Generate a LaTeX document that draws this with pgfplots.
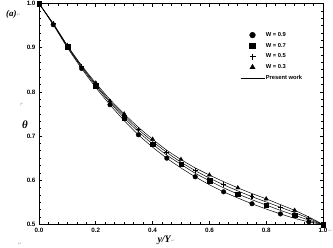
\documentclass[border=0pt]{standalone}
\usepackage{fontspec}
\setmainfont{Liberation Serif}
\setsansfont{Liberation Sans}
\newfontfamily\symfont{DejaVu Sans}
\usepackage{pgfplots}
\pgfplotsset{compat=1.18}
\begin{document}
\begin{tikzpicture}
\useasboundingbox (0,0) rectangle (333bp,248bp);
\begin{axis}[
  at={(39bp,23.5bp)}, anchor=south west,
  scale only axis, width=284bp, height=221bp,
  xmin=0, xmax=1, ymin=0.5, ymax=1.0,
  xtick={0,0.2,0.4,0.6,0.8,1.0}, ytick={0.5,0.6,0.7,0.8,0.9,1.0},
  minor tick num=5,
  tick align=inside,
  major tick length=3.5bp, minor tick length=2bp,
  axis line style={line width=0.9bp},
  every tick/.style={black, line width=0.7bp},
  tick label style={font=\sffamily\bfseries\fontsize{6.3}{6.3}\selectfont,
    /pgf/number format/fixed, /pgf/number format/fixed zerofill,
    /pgf/number format/precision=1, /pgf/number format/assume math mode=true},
  legend style={at={(0.708,0.875)}, anchor=north west, draw=none, fill=none,
    font=\sffamily\bfseries\fontsize{5.8}{6}\selectfont, row sep=3.2bp, inner sep=0pt,
    nodes={inner sep=1bp}, /tikz/every even column/.append style={column sep=4bp}},
  legend cell align=left,
  legend image code/.code={\draw[mark repeat=2,mark phase=2,#1, every mark/.append style={scale=1.25}] plot coordinates {(0bp,0bp) (12bp,0bp) (24bp,0bp)};},
  clip=false,
]
% markers
\addplot[only marks, mark=*, mark size=2.3bp, black] coordinates {
(0.05,0.952) (0.15,0.853) (0.25,0.771) (0.35,0.703) (0.45,0.650) (0.55,0.608) (0.65,0.574) (0.75,0.547) (0.85,0.524) (0.95,0.506)};
\addlegendentry{W = 0.9}
\addplot[only marks, mark=square*, mark size=2.3bp, black] coordinates {
(0,1) (0.1,0.902) (0.2,0.814) (0.3,0.741) (0.4,0.682) (0.5,0.636) (0.6,0.599) (0.7,0.569) (0.8,0.544) (0.9,0.521) (1.0,0.5)};
\addlegendentry{W = 0.7}
\addplot[only marks, mark=+, mark size=2.4bp, black, mark options={line width=1.3bp}] coordinates {
(0.05,0.954) (0.15,0.858) (0.25,0.779) (0.35,0.715) (0.45,0.663) (0.55,0.622) (0.65,0.590) (0.75,0.563) (0.85,0.539) (0.95,0.514)};
\addlegendentry{W = 0.5}
\addplot[only marks, mark=triangle*, mark size=2.4bp, black] coordinates {
(0.1,0.905) (0.2,0.82) (0.3,0.75) (0.4,0.693) (0.5,0.647) (0.6,0.612) (0.7,0.583) (0.8,0.558) (0.9,0.532)};
\addlegendentry{W = 0.3}
% lines (present work)
\addplot[black, line width=0.5bp, smooth] coordinates {
(0,1) (0.05,0.955) (0.1,0.905) (0.15,0.86) (0.2,0.82) (0.25,0.783) (0.3,0.75) (0.35,0.72) (0.4,0.693) (0.45,0.668) (0.5,0.647) (0.55,0.628) (0.6,0.612) (0.65,0.597) (0.7,0.583) (0.75,0.570) (0.8,0.558) (0.85,0.545) (0.9,0.532) (0.95,0.517) (1.0,0.5)};
\addlegendentry{Present work}
\addplot[black, line width=0.5bp, smooth, forget plot] coordinates {
(0,1) (0.05,0.954) (0.1,0.904) (0.15,0.858) (0.2,0.817) (0.25,0.779) (0.3,0.746) (0.35,0.715) (0.4,0.688) (0.45,0.663) (0.5,0.641) (0.55,0.622) (0.6,0.605) (0.65,0.590) (0.7,0.576) (0.75,0.563) (0.8,0.551) (0.85,0.539) (0.9,0.527) (0.95,0.514) (1.0,0.5)};
\addplot[black, line width=0.5bp, smooth, forget plot] coordinates {
(0,1) (0.05,0.953) (0.1,0.902) (0.15,0.856) (0.2,0.814) (0.25,0.776) (0.3,0.741) (0.35,0.710) (0.4,0.682) (0.45,0.657) (0.5,0.636) (0.55,0.616) (0.6,0.599) (0.65,0.583) (0.7,0.569) (0.75,0.556) (0.8,0.544) (0.85,0.532) (0.9,0.521) (0.95,0.510) (1.0,0.5)};
\addplot[black, line width=0.5bp, smooth, forget plot] coordinates {
(0,1) (0.05,0.952) (0.1,0.900) (0.15,0.853) (0.2,0.81) (0.25,0.771) (0.3,0.735) (0.35,0.703) (0.4,0.675) (0.45,0.650) (0.5,0.628) (0.55,0.608) (0.6,0.590) (0.65,0.574) (0.7,0.560) (0.75,0.547) (0.8,0.535) (0.85,0.524) (0.9,0.514) (0.95,0.506) (1.0,0.5)};
% labels
\node[font=\bfseries\itshape\fontsize{11}{11}\selectfont] at (axis description cs:-0.049,0.45) {θ};
\node[gray!60, anchor=south] at (axis description cs:-0.062,0.52) {\symfont\fontsize{5}{5}\selectfont ↱};
\node[anchor=west, font=\bfseries\itshape\fontsize{10}{10}\selectfont] at (axis description cs:0.405,-0.072) {y/Y\textcolor{gray!60}{\normalfont\symfont\fontsize{5}{5}\selectfont ↵}};
\node[anchor=west, font=\bfseries\itshape\fontsize{9}{9}\selectfont] at (axis description cs:-0.128,0.952) {(a)\textcolor{gray!60}{\normalfont\symfont\fontsize{5}{5}\selectfont ↵}};
\node[gray!60, font=\symfont\fontsize{5}{5}\selectfont] at (axis description cs:-0.067,-0.088) {↵};
\node[gray!60, font=\symfont\fontsize{5}{5}\selectfont] at (axis description cs:1.025,-0.03) {↵};
\end{axis}
\end{tikzpicture}
\end{document}
